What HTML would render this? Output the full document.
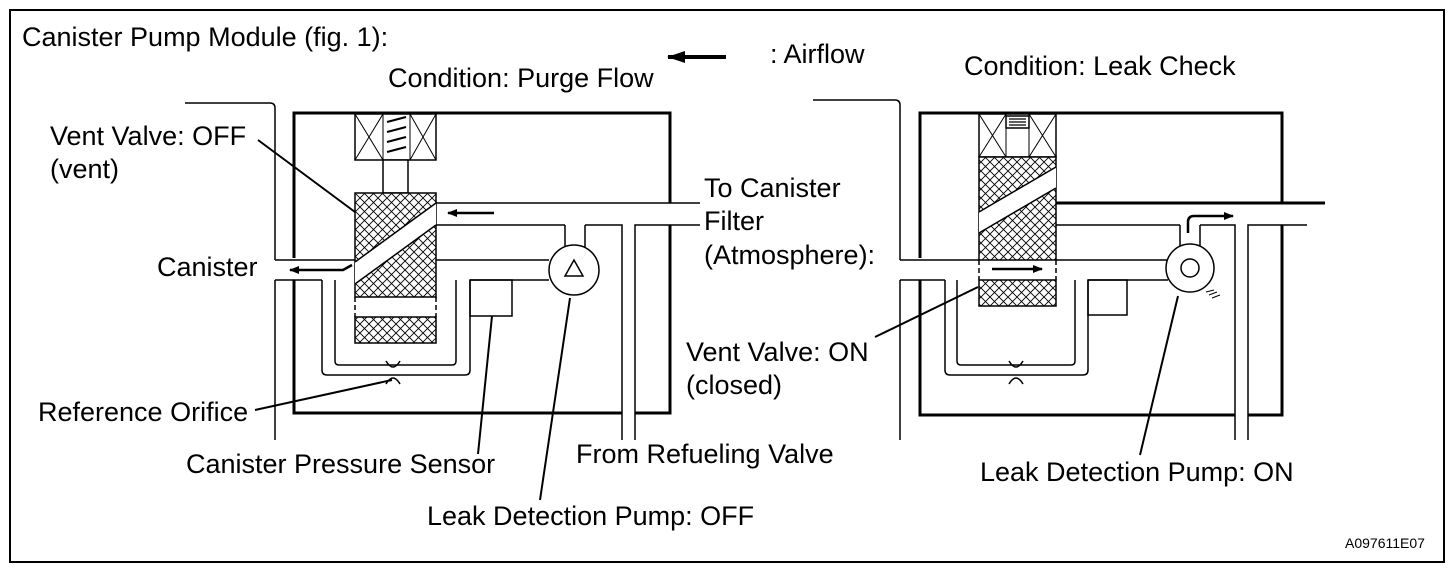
<!DOCTYPE html>
<html><head><meta charset="utf-8"><style>
html,body{margin:0;padding:0;background:#fff}
svg{display:block}
text{font-family:"Liberation Sans",Arial,sans-serif;font-size:27px;fill:#000}
</style></head><body>
<svg width="1456" height="574" viewBox="0 0 1456 574" xmlns="http://www.w3.org/2000/svg">
<defs>
<pattern id="h" width="9" height="9" patternUnits="userSpaceOnUse">
<rect width="9" height="9" fill="#fff"/>
<path d="M0,0L9,9M9,0L0,9" stroke="#000" stroke-width="0.9"/>
</pattern>
<marker id="ah" markerWidth="10" markerHeight="8" refX="9" refY="4" orient="auto" markerUnits="userSpaceOnUse"><path d="M0,0L10,4L0,8z" fill="#000"/></marker>
<marker id="ab" markerWidth="18" markerHeight="12" refX="17" refY="6" orient="auto" markerUnits="userSpaceOnUse"><path d="M0,0L18,6L0,12z" fill="#000"/></marker>
</defs>
<rect x="10" y="10" width="1434" height="552" fill="none" stroke="#000" stroke-width="2"/>

<g fill="none" stroke="#000" stroke-width="1.5">
<path d="M185,103H270Q275,103 275,108V260"/>
<path d="M275,280V440"/>
<path d="M275,260H355M275,280H322"/>
<path d="M436,260H549M470,280H549"/>
<path d="M436,203H700M436,225H565M585,225H622V440M635,440V225H700"/>
<path d="M565,225V247M585,225V247"/>
<rect x="470" y="280" width="42" height="36"/>
<path d="M322,280V370Q322,375 327,375H465Q470,375 470,370V280"/>
<path d="M335,280V361Q335,365 339,365H452Q456,365 456,361V280"/>
<path d="M386,361Q393,373 400,361M386,384Q393,372 400,384"/>
</g>
<path d="M294,258V113H670V203M670,225V413H635M622,413H294V280" fill="none" stroke="#000" stroke-width="3"/>
<circle cx="574" cy="270" r="25" fill="#fff" stroke="#000" stroke-width="1.5"/>
<path d="M574,260L565,276H583Z" fill="none" stroke="#000" stroke-width="1.5"/>
<g stroke="#000" stroke-width="1.5" fill="#fff">
<rect x="355" y="114" width="81" height="46"/>
<path d="M383,114V160M410,114V160M355,114L383,160M383,114L355,160M410,114L436,160M436,114L410,160" fill="none" stroke-width="1"/>
<path d="M387,122L406,117M387,132L406,127M387,142L406,137M387,152L406,147" fill="none" stroke-width="2"/>
<rect x="383" y="160" width="25" height="33"/>
<rect x="355" y="193" width="81" height="104" fill="url(#h)"/>
<path d="M355,262L436,203L436,225L355,284Z" fill="#fff" stroke="none"/>
<path d="M355,262L436,203M355,284L436,225" fill="none"/>
<rect x="355" y="317" width="81" height="26" fill="url(#h)"/>
<path d="M355,297V317M436,297V317" stroke-dasharray="5,3" fill="none"/>
</g>
<g stroke="#000" stroke-width="2.5" fill="none">
<path d="M494,213H448" marker-end="url(#ah)"/>
<path d="M352,265L343,270H290" marker-end="url(#ah)"/>
</g>
<g stroke="#000" stroke-width="2" fill="none">
<path d="M258,140L355,212M255,410L392,380M478,454L492,316M540,500L570,298"/>
</g>

<path d="M726,57H668" stroke="#000" stroke-width="4" marker-end="url(#ab)"/>

<g fill="none" stroke="#000" stroke-width="1.5">
<path d="M813,100H895Q900,100 900,105V260"/>
<path d="M900,280V440"/>
<path d="M900,260H979M900,280H945"/>
<path d="M1056,260H1168M1088,280H1168"/>
<path d="M1056,225H1180M1200,225H1235V440M1248,440V225H1307"/>
<path d="M1180,225V247M1200,225V247"/>
<rect x="1088" y="280" width="39" height="35"/>
<path d="M945,280V370Q945,375 950,375H1083Q1088,375 1088,370V280"/>
<path d="M957,280V361Q957,365 961,365H1071Q1075,365 1075,361V280"/>
<path d="M1009,361Q1016,373 1023,361M1009,384Q1016,372 1023,384"/>
</g>
<path d="M1056,203H1325" stroke="#000" stroke-width="3"/>
<path d="M920,258V113H1282V203M1282,225V415H1248M1235,415H920V280" fill="none" stroke="#000" stroke-width="3"/>
<circle cx="1190" cy="268" r="24" fill="#fff" stroke="#000" stroke-width="1.5"/>
<circle cx="1190" cy="268" r="9" fill="none" stroke="#000" stroke-width="1.5"/>
<path d="M1206,292L1214,290M1209,295L1217,292M1212,298L1220,295" stroke="#000" stroke-width="1"/>
<g stroke="#000" stroke-width="1.5" fill="#fff">
<rect x="979" y="114" width="77" height="43"/>
<path d="M1006,114V157M1029,114V157M979,114L1006,157M1006,114L979,157M1029,114L1056,157M1056,114L1029,157" fill="none" stroke-width="1"/>
<rect x="1006" y="116" width="23" height="12" fill="#fff"/>
<path d="M1009,119H1026M1009,122H1026M1009,125H1026" fill="none" stroke-width="1.2"/>
<rect x="979" y="157" width="77" height="103" fill="url(#h)"/>
<path d="M979,212L1056,167L1056,188L979,233Z" fill="#fff" stroke="none"/>
<path d="M979,212L1056,167M979,233L1056,188" fill="none"/>
<rect x="979" y="280" width="77" height="26" fill="url(#h)"/>
<path d="M979,260V280M1056,260V280" stroke-dasharray="5,3" fill="none"/>
</g>
<g stroke="#000" stroke-width="2.5" fill="none">
<path d="M992,269H1042" marker-end="url(#ah)"/>
<path d="M1188,233V222Q1188,216 1194,216H1233" marker-end="url(#ah)"/>
</g>
<g stroke="#000" stroke-width="2" fill="none">
<path d="M875,337L978,287M1140,455L1178,296"/>
</g>

<text x="22" y="46">Canister Pump Module (fig. 1):</text>
<text x="388" y="87">Condition: Purge Flow</text>
<text x="770" y="63">: Airflow</text>
<text x="964" y="75">Condition: Leak Check</text>
<text x="50" y="145">Vent Valve: OFF</text>
<text x="50" y="178">(vent)</text>
<text x="157" y="276">Canister</text>
<text x="38" y="421">Reference Orifice</text>
<text x="186" y="473">Canister Pressure Sensor</text>
<text x="427" y="525">Leak Detection Pump: OFF</text>
<text x="576" y="463">From Refueling Valve</text>
<text x="704" y="197">To Canister</text>
<text x="704" y="230">Filter</text>
<text x="704" y="264">(Atmosphere):</text>
<text x="686" y="361">Vent Valve: ON</text>
<text x="686" y="394">(closed)</text>
<text x="980" y="481">Leak Detection Pump: ON</text>
<text x="1345" y="548" style="font-size:14px">A097611E07</text>
</svg>
</body></html>
